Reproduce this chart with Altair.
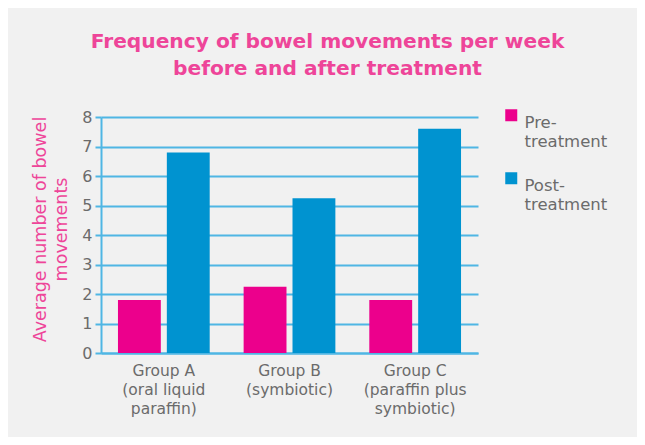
import altair as alt
import pandas as pd

groups = ["Group A\n(oral liquid\nparaffin)", "Group B\n(symbiotic)", "Group C\n(paraffin plus\nsymbiotic)"]
pre = [1.8, 2.25, 1.8]
post = [6.8, 5.25, 7.6]
series = ["Pre-\ntreatment", "Post-\ntreatment"]

rows = []
for g, a, b in zip(groups, pre, post):
    rows.append({"group": g, "series": series[0], "value": a})
    rows.append({"group": g, "series": series[1], "value": b})
df = pd.DataFrame(rows)

PINK = "#ec008c"
TPINK = "#ee4599"
BLUE = "#0093d0"
GRID = "#4fb6e4"
GRAY = "#6b6b6b"
FONT = "DejaVu Sans"

chart = alt.Chart(df).mark_bar().encode(
    x=alt.X("group:N", sort=groups, title=None,
            scale=alt.Scale(paddingInner=0.27, paddingOuter=0.135),
            axis=alt.Axis(labelAngle=0, labelExpr="split(datum.label, '\\n')",
                          labelColor=GRAY, labelFontSize=15.5, labelFont=FONT,
                          labelLineHeight=19, labelPadding=10, ticks=False,
                          domainColor=GRID, domainWidth=2, labelLimit=200)),
    xOffset=alt.XOffset("series:N", sort=series,
                        scale=alt.Scale(paddingInner=0.123, paddingOuter=0)),
    y=alt.Y("value:Q", title=["Average number of bowel", "movements"],
            scale=alt.Scale(domain=[0, 8], nice=False),
            axis=alt.Axis(values=[0, 1, 2, 3, 4, 5, 6, 7, 8], grid=True,
                          gridColor=GRID, gridWidth=2, domainColor=GRID, domainWidth=2,
                          tickColor=GRID, tickSize=6, tickWidth=2,
                          labelColor=GRAY, labelFontSize=16, labelFont=FONT, labelPadding=3,
                          titleColor=TPINK, titleFontSize=17.5, titleFont=FONT,
                          titleFontWeight="normal", titleAngle=-90,
                          titleX=-70, titleY=112, titleAlign="center",
                          titleBaseline="top", titleLineHeight=21)),
    color=alt.Color("series:N", sort=series,
                    scale=alt.Scale(domain=series, range=[PINK, BLUE]),
                    legend=alt.Legend(title=None, orient="none", legendX=402, legendY=-10,
                                      symbolType="square", symbolSize=144,
                                      symbolStrokeWidth=0,
                                      labelExpr="split(datum.label, '\\n')",
                                      labelFontSize=16.5, labelFont=FONT, labelColor=GRAY,
                                      labelBaseline="top",
                                      labelOffset=5, rowPadding=19, labelLimit=200)),
).properties(
    width=377, height=236,
    title=alt.TitleParams(
        ["Frequency of bowel movements per week", "before and after treatment"],
        color=TPINK, fontSize=20.2, font=FONT, fontWeight="bold",
        anchor="middle", frame="group", dx=38, offset=28, lineHeight=27),
    padding={"left": 93, "top": 109, "right": 159, "bottom": 84},
    autosize=alt.AutoSizeParams(type="none"),
    background="#f1f1f1",
).configure_view(stroke=None)

chart.save("out.html", embed_options={"renderer": "svg", "actions": False})
